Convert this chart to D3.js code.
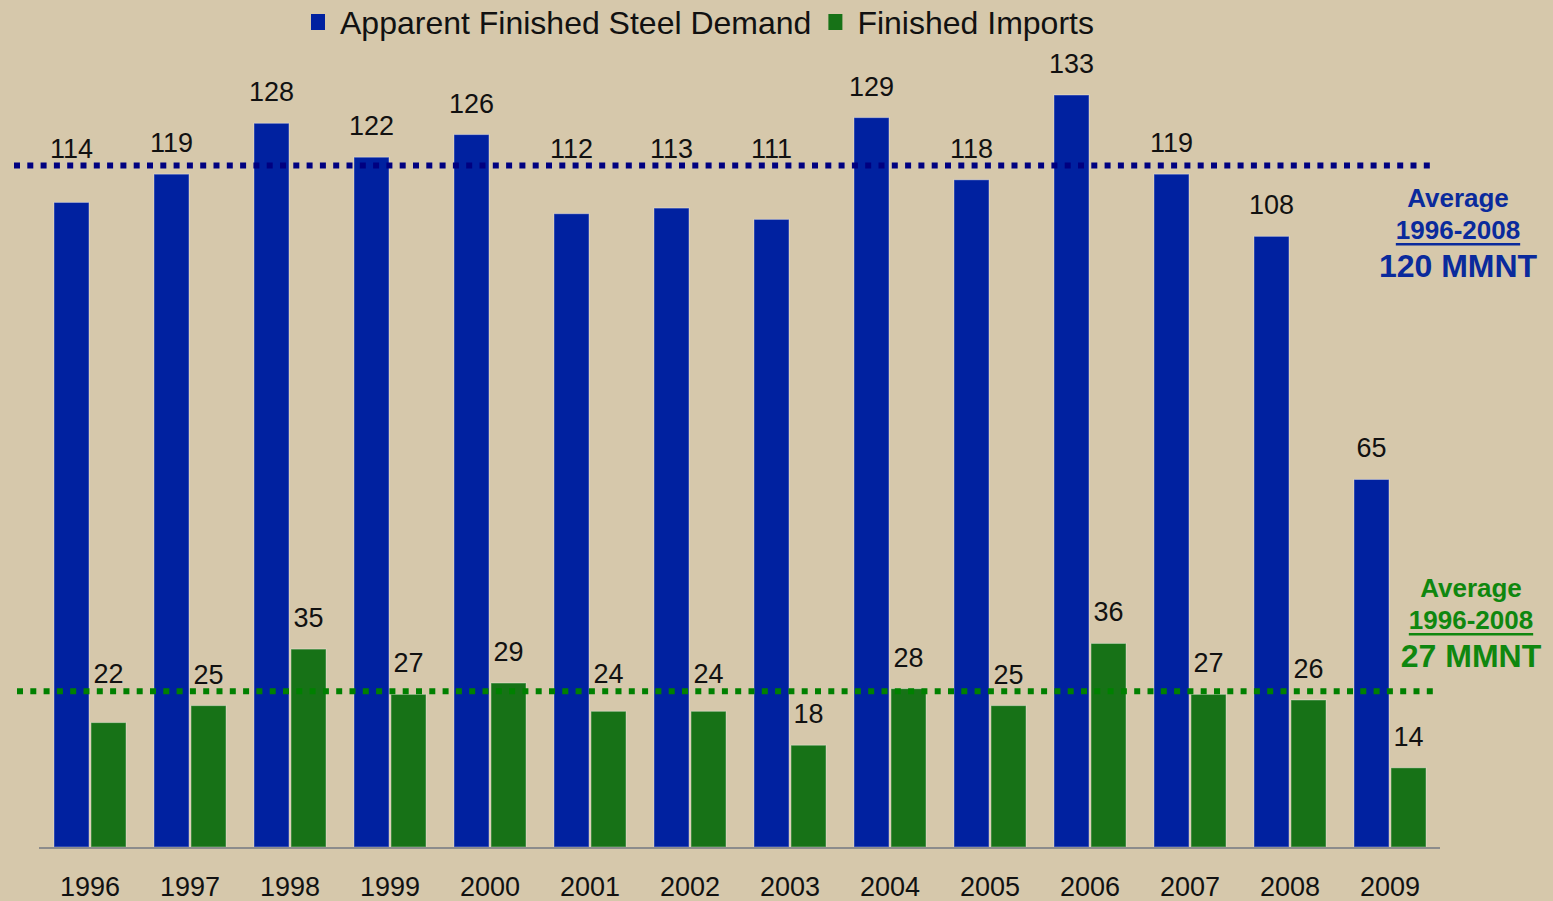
<!DOCTYPE html>
<html>
<head>
<meta charset="utf-8">
<script src="https://cdn.jsdelivr.net/npm/d3@7"></script>
<style>
  html, body { margin: 0; padding: 0; background: #d6c8ab; }
  svg { display: block; font-family: "Liberation Sans", Arial, sans-serif; }
</style>
</head>
<body>
<svg id="chart" width="1553" height="901"></svg>
<script>
// data
var years = ["1996", "1997", "1998", "1999", "2000", "2001", "2002", "2003", "2004", "2005", "2006", "2007", "2008", "2009"];
var demand = [114, 119, 128, 122, 126, 112, 113, 111, 129, 118, 133, 119, 108, 65];
var imports = [22, 25, 35, 27, 29, 24, 24, 18, 28, 25, 36, 27, 26, 14];
var seriesNames = ["Apparent Finished Steel Demand", "Finished Imports"];
var averages = [120, 27];
var averageLabels = [["Average", "1996-2008", "120 MMNT"], ["Average", "1996-2008", "27 MMNT"]];

// labels that the original moved up onto the average line
var liftedLabels = [
    ["1996", "2001", "2002", "2003", "2005"],
    ["1996", "2001", "2002"]
];

var barColors = ["#0021a0", "#177217"];
var lineColors = ["#000080", "#008000"];
var noteColors = ["#0a2a9c", "#0f870f"];

var svg = d3.select("#chart");
var W = 1553, H = 901;
var baseY = 847;

svg.append("rect").attr("width", W).attr("height", H).attr("fill", "#d6c8ab");

var x0 = d3.scaleBand()
    .domain(years)
    .range([40, 1440])
    .paddingInner(0.28)
    .paddingOuter(0.14);

var x1 = d3.scaleBand()
    .domain([0, 1])
    .range([0, x0.bandwidth()])
    .paddingInner(0.055);

var y = d3.scaleLinear()
    .domain([0, 140])
    .range([baseY, baseY - 140 * 5.654]);

var rows = years.map(function (yr, i) {
    return {year: yr, vals: [demand[i], imports[i]]};
});

// bars
var groups = svg.append("g").attr("class", "bars")
    .selectAll("g")
    .data(rows)
    .join("g")
    .attr("transform", function (d) { return "translate(" + x0(d.year) + ",0)"; });

groups.selectAll("rect")
    .data(function (d) { return d.vals.map(function (v, s) { return {s: s, v: v}; }); })
    .join("rect")
    .attr("x", function (d) { return x1(d.s); })
    .attr("y", function (d) { return y(d.v); })
    .attr("width", x1.bandwidth())
    .attr("height", function (d) { return baseY - y(d.v); })
    .attr("fill", function (d) { return barColors[d.s]; })
    .attr("stroke", "rgba(255,255,255,0.35)")
    .attr("stroke-width", 1);

// x axis line + year labels
svg.append("line")
    .attr("x1", 39).attr("x2", 1440)
    .attr("y1", baseY + 1).attr("y2", baseY + 1)
    .attr("stroke", "#8c8c8c")
    .attr("stroke-width", 2);

svg.append("g").attr("class", "year-labels")
    .selectAll("text")
    .data(years)
    .join("text")
    .attr("x", function (d) { return x0(d) + x0.bandwidth() / 2; })
    .attr("y", 896)
    .attr("text-anchor", "middle")
    .attr("font-size", 27)
    .attr("fill", "#111")
    .text(function (d) { return d; });

// dotted average lines
var lineExtent = [[14, 1435], [17, 1437]];
averages.forEach(function (a, s) {
    svg.append("line")
        .attr("x1", lineExtent[s][0]).attr("x2", lineExtent[s][1])
        .attr("y1", y(a) - 3).attr("y2", y(a) - 3)
        .attr("stroke", lineColors[s])
        .attr("stroke-width", 6)
        .attr("stroke-dasharray", "6 7.3");
});

// value labels
var labels = svg.append("g").attr("class", "value-labels");
rows.forEach(function (d) {
    d.vals.forEach(function (v, s) {
        var b = y(v) - 22;
        if (liftedLabels[s].indexOf(d.year) >= 0) {
            b = y(averages[s]) - 11;
        }
        labels.append("text")
            .attr("x", x0(d.year) + x1(s) + x1.bandwidth() / 2)
            .attr("y", b)
            .attr("text-anchor", "middle")
            .attr("font-size", 27)
            .attr("fill", "#111")
            .text(v);
    });
});

// average notes on the right
var notePos = [{x: 1458, y: 207}, {x: 1471, y: 597}];
averageLabels.forEach(function (lines, s) {
    var g = svg.append("g")
        .attr("transform", "translate(" + notePos[s].x + "," + notePos[s].y + ")")
        .attr("fill", noteColors[s])
        .attr("font-weight", "bold")
        .attr("text-anchor", "middle");
    g.append("text").attr("y", 0).attr("font-size", 26).text(lines[0]);
    var mid = g.append("text").attr("y", 32).attr("font-size", 26).text(lines[1]);
    var w = mid.node().getComputedTextLength();
    g.append("rect")
        .attr("x", -w / 2).attr("y", 36)
        .attr("width", w).attr("height", 2.5)
        .attr("fill", noteColors[s]);
    g.append("text").attr("y", 70).attr("font-size", 32).text(lines[2]);
});

// legend
var legend = svg.append("g").attr("class", "legend");
var lx = 311;
seriesNames.forEach(function (name, s) {
    legend.append("rect")
        .attr("x", lx).attr("y", 14)
        .attr("width", 14).attr("height", 16)
        .attr("fill", barColors[s]);
    var t = legend.append("text")
        .attr("x", lx + 29).attr("y", 34)
        .attr("font-size", 32)
        .attr("fill", "#111")
        .text(name);
    lx += 29 + t.node().getComputedTextLength() + 17;
});
</script>
</body>
</html>
